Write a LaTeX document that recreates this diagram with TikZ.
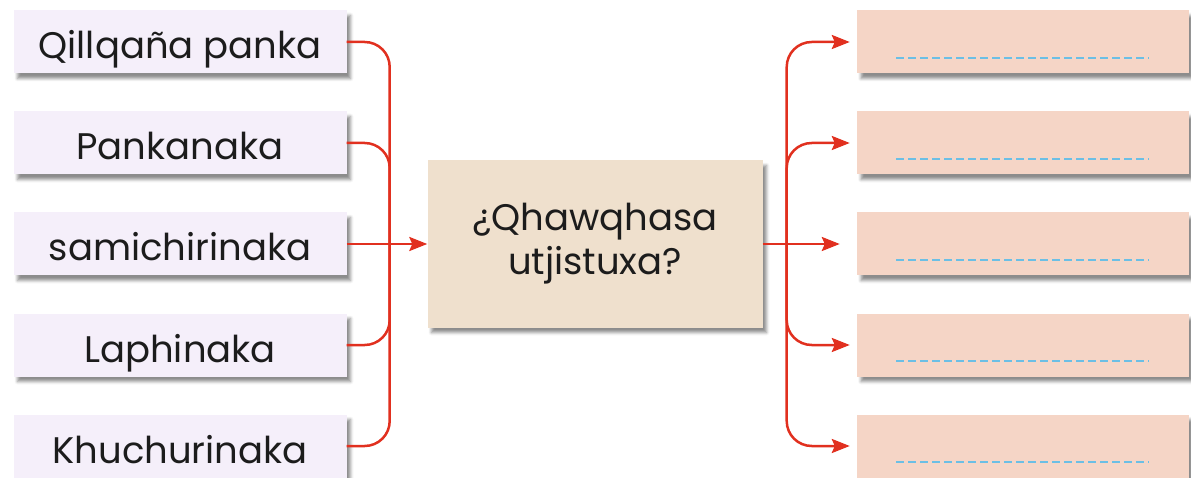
\documentclass[tikz,border=0pt]{standalone}
\usepackage{fontspec}
\setmainfont{Poppins}
\usepackage{tikz}
\usetikzlibrary{shapes,arrows.meta,calc,shadows.blur}
\definecolor{wordfill}{HTML}{F5EFFA}
\definecolor{askfill}{HTML}{EFE0CD}
\definecolor{replyfill}{HTML}{F5D5C6}
\definecolor{linkred}{HTML}{E1301F}
\definecolor{dashblue}{HTML}{6BBFE5}
\definecolor{inkgrey}{HTML}{1C1C1C}
\tikzstyle{paperbox} = [rectangle, text centered, text=inkgrey, font=\fontsize{37}{44}\selectfont, blur shadow={shadow xshift=4pt, shadow yshift=-5pt, shadow blur radius=3pt, shadow opacity=45}]
\tikzstyle{wordbox} = [paperbox, fill=wordfill, minimum width=333pt, minimum height=63pt, text height=34pt, text depth=0pt]
\tikzstyle{askbox} = [paperbox, fill=askfill, minimum width=335pt, minimum height=167pt, align=center]
\tikzstyle{replybox} = [paperbox, fill=replyfill, minimum width=332pt, minimum height=63pt, path picture={\draw[dashblue, line width=2.5pt, dash pattern=on 8pt off 4pt] ([shift={(-127pt,-16pt)}]path picture bounding box.center) -- ([shift={(126pt,-16pt)}]path picture bounding box.center);}]
\tikzstyle{line} = [draw, linkred, line width=2.5pt, rounded corners=25pt]
\tikzstyle{arrowline} = [line, -{Stealth[length=18pt, width=14pt, inset=3pt]}]

\begin{document}
\begin{tikzpicture}[x=1pt, y=-1pt, node distance=101pt]
        \useasboundingbox (0,0) rectangle (1191,478);
        % words on the left
        \node[wordbox] (w1) at (180,42) {Qillqaña panka};
        \node[wordbox, below of=w1] (w2) {Pankanaka};
        \node[wordbox, below of=w2] (w3) {samichirinaka};
        \node[wordbox, below of=w3] (w4) {Laphinaka};
        \node[wordbox, below of=w4] (w5) {Khuchurinaka};
        % question in the middle
        \node[askbox, right of=w3, node distance=415pt] (q) {¿Qhawqhasa\\utjistuxa?};
        % empty boxes on the right
        \node[replybox, right of=q, node distance=428pt] (a3) {};
        \node[replybox, above of=a3] (a2) {};
        \node[replybox, above of=a2] (a1) {};
        \node[replybox, below of=a3] (a4) {};
        \node[replybox, below of=a4] (a5) {};
        \coordinate (jl) at ($(w3.east)+(43,0)$);
        \coordinate (jr) at ($(q.east)+(24,0)$);
        \path[line] (w1.east) -| (jl);
        \path[line] (w2.east) -| (jl);
        \path[line] (w4.east) -| (jl);
        \path[line] (w5.east) -| (jl);
        \path[arrowline] (w3.east) -- (q.west);
        \path[arrowline] (q.east) -- ([xshift=-17pt]a3.west);
        \path[arrowline] (jr) |- ([xshift=-7pt]a1.west);
        \path[arrowline] (jr) |- ([xshift=-7pt]a2.west);
        \path[arrowline] (jr) |- ([xshift=-7pt]a4.west);
        \path[arrowline] (jr) |- ([xshift=-7pt]a5.west);
    \end{tikzpicture}
\end{document}
